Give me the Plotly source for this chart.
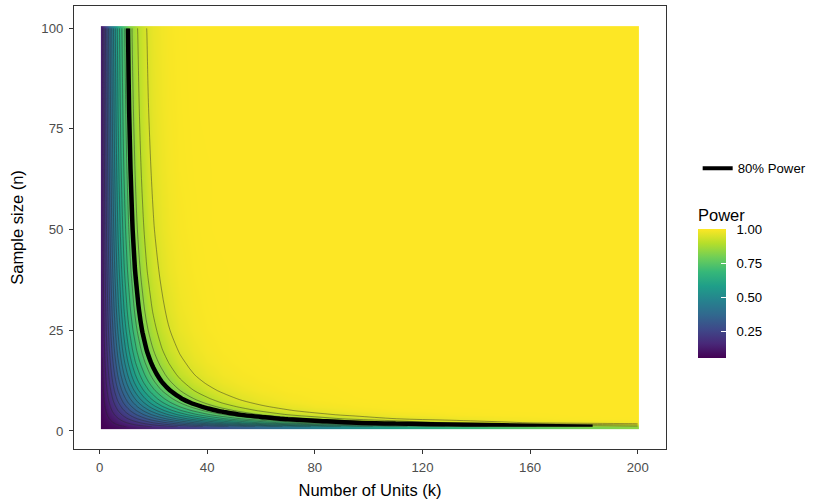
import numpy as np
import plotly.graph_objects as go

# Number of units (k) columns and sample size (n) rows of the power grid
k_vals = [1, 2, 3, 4, 5, 6, 7, 8, 9, 10, 11, 12, 13, 14, 16, 18, 20, 23, 26, 30, 35,
          40, 46, 53, 60, 70, 80, 95, 110, 130, 150, 170, 185, 199, 200]
n_vals = [1, 2, 3, 4, 5, 6, 7, 8, 10, 12, 14, 17, 20, 25, 30, 40, 50, 65, 80, 99, 100]

# Power in thousandths (rows follow n_vals, columns follow k_vals)
power_n1 = [55, 60, 65, 70, 75, 80, 85, 90, 95, 100, 106, 111, 116, 121, 132, 142, 153, 168, 184, 205, 232, 258, 290, 326, 361, 410, 457, 523, 584, 656, 718, 770, 804, 832, 834]
power_n2 = [59, 69, 79, 88, 98, 108, 118, 128, 138, 148, 158, 168, 178, 188, 208, 229, 249, 279, 308, 347, 395, 440, 492, 549, 601, 668, 725, 796, 851, 904, 939, 962, 973, 981, 982]
power_n3 = [64, 77, 91, 105, 119, 134, 148, 163, 177, 192, 206, 221, 235, 249, 278, 307, 335, 376, 416, 467, 527, 582, 642, 703, 756, 818, 865, 916, 949, 974, 987, 994, 997, 998, 998]
power_n4 = [67, 85, 103, 121, 139, 158, 176, 195, 213, 232, 250, 269, 287, 305, 341, 376, 410, 459, 506, 564, 630, 688, 747, 805, 851, 900, 934, 965, 982, 993, 997, 999, 1000, 1000, 1000]
power_n5 = [71, 92, 114, 136, 158, 180, 202, 224, 246, 268, 290, 312, 334, 355, 396, 436, 475, 529, 580, 642, 708, 765, 820, 870, 907, 944, 967, 985, 994, 998, 999, 1000, 1000, 1000, 1000]
power_n6 = [74, 99, 124, 149, 175, 200, 226, 251, 277, 302, 327, 351, 375, 399, 445, 489, 531, 589, 642, 704, 769, 821, 871, 912, 942, 968, 983, 993, 998, 999, 1000, 1000, 1000, 1000, 1000]
power_n7 = [77, 105, 133, 162, 190, 219, 248, 276, 305, 333, 360, 387, 413, 439, 488, 535, 579, 639, 692, 753, 815, 863, 906, 940, 962, 981, 991, 997, 999, 1000, 1000, 1000, 1000, 1000, 1000]
power_n8 = [80, 111, 142, 173, 205, 237, 268, 299, 330, 360, 390, 419, 447, 474, 527, 575, 620, 681, 734, 793, 850, 893, 930, 958, 975, 989, 995, 999, 1000, 1000, 1000, 1000, 1000, 1000, 1000]
power_n10 = [85, 121, 158, 194, 231, 268, 305, 340, 375, 409, 442, 474, 505, 535, 590, 641, 687, 747, 797, 850, 899, 933, 960, 978, 989, 996, 998, 1000, 1000, 1000, 1000, 1000, 1000, 1000, 1000]
power_n12 = [89, 130, 171, 213, 254, 295, 336, 375, 413, 450, 486, 520, 553, 584, 641, 692, 737, 795, 841, 888, 930, 956, 976, 988, 994, 998, 999, 1000, 1000, 1000, 1000, 1000, 1000, 1000, 1000]
power_n14 = [93, 138, 183, 229, 274, 319, 363, 405, 446, 485, 522, 558, 592, 623, 681, 732, 776, 830, 873, 915, 949, 970, 985, 993, 997, 999, 1000, 1000, 1000, 1000, 1000, 1000, 1000, 1000, 1000]
power_n17 = [98, 148, 199, 250, 300, 349, 397, 443, 486, 528, 567, 604, 639, 671, 728, 777, 819, 868, 905, 940, 967, 982, 992, 997, 999, 1000, 1000, 1000, 1000, 1000, 1000, 1000, 1000, 1000, 1000]
power_n20 = [103, 157, 213, 268, 322, 375, 425, 474, 519, 562, 603, 640, 675, 707, 764, 811, 849, 895, 927, 956, 977, 989, 995, 998, 999, 1000, 1000, 1000, 1000, 1000, 1000, 1000, 1000, 1000, 1000]
power_n25 = [109, 170, 231, 292, 351, 408, 463, 514, 562, 607, 648, 686, 720, 752, 806, 849, 884, 923, 949, 972, 987, 994, 998, 999, 1000, 1000, 1000, 1000, 1000, 1000, 1000, 1000, 1000, 1000, 1000]
power_n30 = [113, 179, 246, 311, 374, 435, 492, 545, 595, 640, 681, 719, 753, 783, 835, 875, 906, 940, 962, 980, 991, 996, 999, 1000, 1000, 1000, 1000, 1000, 1000, 1000, 1000, 1000, 1000, 1000, 1000]
power_n40 = [121, 194, 267, 339, 408, 473, 533, 589, 640, 685, 726, 763, 795, 824, 871, 906, 932, 959, 976, 988, 995, 998, 999, 1000, 1000, 1000, 1000, 1000, 1000, 1000, 1000, 1000, 1000, 1000, 1000]
power_n50 = [126, 204, 283, 359, 432, 499, 562, 618, 669, 715, 755, 791, 822, 849, 892, 924, 947, 970, 983, 992, 997, 999, 1000, 1000, 1000, 1000, 1000, 1000, 1000, 1000, 1000, 1000, 1000, 1000, 1000]
power_n65 = [131, 215, 299, 380, 456, 526, 590, 648, 699, 744, 783, 817, 846, 872, 911, 939, 959, 978, 988, 995, 998, 999, 1000, 1000, 1000, 1000, 1000, 1000, 1000, 1000, 1000, 1000, 1000, 1000, 1000]
power_n80 = [135, 223, 310, 394, 472, 544, 609, 667, 718, 762, 801, 834, 862, 886, 923, 948, 966, 982, 991, 996, 999, 1000, 1000, 1000, 1000, 1000, 1000, 1000, 1000, 1000, 1000, 1000, 1000, 1000, 1000]
power_n99 = [139, 230, 321, 407, 487, 560, 626, 684, 734, 778, 816, 848, 875, 897, 932, 955, 971, 985, 993, 997, 999, 1000, 1000, 1000, 1000, 1000, 1000, 1000, 1000, 1000, 1000, 1000, 1000, 1000, 1000]
power_n100 = [139, 230, 321, 408, 488, 561, 627, 685, 735, 779, 816, 848, 875, 898, 932, 956, 971, 985, 993, 997, 999, 1000, 1000, 1000, 1000, 1000, 1000, 1000, 1000, 1000, 1000, 1000, 1000, 1000, 1000]

power_rows = [power_n1, power_n2, power_n3, power_n4, power_n5, power_n6, power_n7, power_n8,
              power_n10, power_n12, power_n14, power_n17, power_n20, power_n25, power_n30,
              power_n40, power_n50, power_n65, power_n80, power_n99, power_n100]
z = np.array(power_rows, dtype=float) / 1000.0

x_ticks = [0, 40, 80, 120, 160, 200]
y_ticks = [0, 25, 50, 75, 100]
cb_ticks = [0.25, 0.5, 0.75, 1.0]
cb_labels = ["0.25", "0.50", "0.75", "1.00"]
pad = "\u00a0\u00a0"

font = "Liberation Sans, Arial, sans-serif"
fig = go.Figure()
fig.add_trace(go.Heatmap(
    x=k_vals, y=n_vals, z=z, zsmooth="best", colorscale="Viridis", hoverinfo="skip",
    colorbar=dict(title=dict(text="Power", side="top", font=dict(size=16.5, color="black")),
                  thickness=28, lenmode="pixels", len=152, x=1.054, xanchor="left", xpad=0,
                  y=0.5485, yanchor="top", ypad=0,
                  ticks="inside", tickcolor="white", ticklen=5, tickwidth=1, outlinewidth=0,
                  tickvals=cb_ticks, ticktext=[pad + t for t in cb_labels],
                  tickfont=dict(size=13.2, color="black"))))
fig.add_trace(go.Contour(
    x=k_vals, y=n_vals, z=z, showscale=False, showlegend=False, hoverinfo="skip",
    contours=dict(start=0.05, end=0.95, size=0.05, coloring="none"),
    line=dict(color="rgba(40,40,40,0.45)", width=1)))
fig.add_trace(go.Contour(
    x=k_vals, y=n_vals, z=z, showscale=False, showlegend=False, hoverinfo="skip",
    contours=dict(start=0.8, end=0.8, size=0.1, coloring="none"),
    line=dict(color="black", width=4.5)))
fig.add_trace(go.Scatter(x=[None], y=[None], mode="lines", line=dict(color="black", width=4),
                         name="80% Power", showlegend=True))

fig.update_layout(
    template="none",
    width=829, height=502, margin=dict(l=74, r=163, t=6, b=53),
    plot_bgcolor="white", paper_bgcolor="white", font=dict(family=font),
    legend=dict(x=1.0535, y=0.668, xanchor="left", yanchor="top",
                font=dict(size=13.2, color="black"), bgcolor="rgba(0,0,0,0)", borderwidth=0),
    xaxis=dict(range=[-9.5, 210.5], tickvals=x_ticks, ticks="outside", ticklen=4,
               tickcolor="#333333", tickwidth=1, ticklabelstandoff=2,
               tickfont=dict(size=13.2, color="#4D4D4D"),
               showgrid=False, zeroline=False, showline=True, linecolor="#333333",
               mirror=True, linewidth=1, automargin=False,
               title=dict(text="Number of Units (k)", font=dict(size=16.5, color="black"), standoff=10)),
    yaxis=dict(range=[-4.5, 105.5], tickvals=y_ticks, ticks="outside", ticklen=4,
               tickcolor="#333333", tickwidth=1, ticklabelstandoff=3,
               tickfont=dict(size=13.2, color="#4D4D4D"),
               showgrid=False, zeroline=False, showline=True, linecolor="#333333",
               mirror=True, linewidth=1, automargin=False,
               title=dict(text="Sample size (n)", font=dict(size=16.5, color="black"), standoff=13)))
fig.write_html("out.html", config={"displayModeBar": False},
               post_script="document.body.style.margin='0px';")
